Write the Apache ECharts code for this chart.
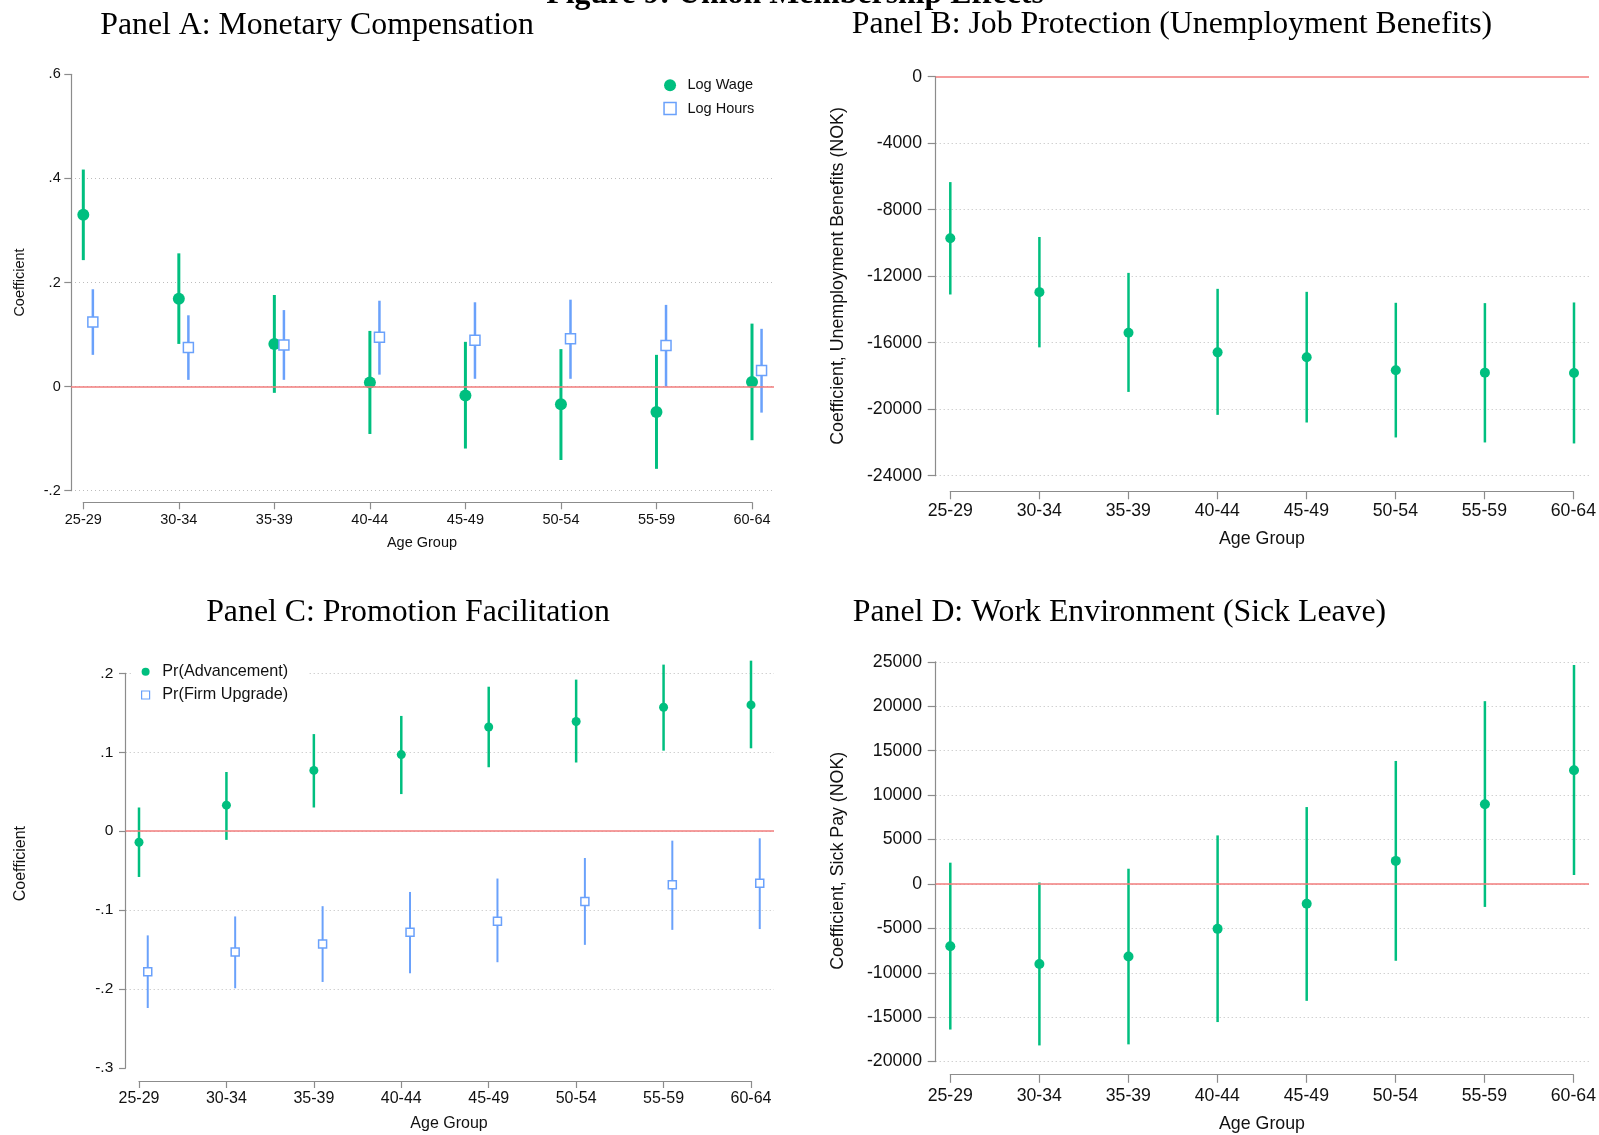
<!DOCTYPE html>
<html>
<head>
<meta charset="utf-8">
<script src="https://cdn.jsdelivr.net/npm/echarts@6/dist/echarts.min.js"></script>
<style>html,body{margin:0;padding:0;background:#fff}#chart{width:1599px;height:1135px}</style>
</head>
<body>
<div id="chart"></div>
<script>
// ---------------- DATA ----------------
const ageGroups = ['25-29', '30-34', '35-39', '40-44', '45-49', '50-54', '55-59', '60-64'];

const figureTitle = 'Figure 9: Union Membership Effects';
const panelTitles = [
  'Panel A: Monetary Compensation',
  'Panel B: Job Protection (Unemployment Benefits)',
  'Panel C: Promotion Facilitation',
  'Panel D: Work Environment (Sick Leave)'
];
const yTitles = ['Coefficient', 'Coefficient, Unemployment Benefits (NOK)', 'Coefficient', 'Coefficient, Sick Pay (NOK)'];
const xTitle = 'Age Group';

// Panel A
const wageCoef = [0.330, 0.169, 0.082, 0.008, -0.017, -0.034, -0.049, 0.009];
const wageLo   = [0.243, 0.082, -0.012, -0.091, -0.119, -0.141, -0.158, -0.103];
const wageHi   = [0.417, 0.256, 0.176, 0.107, 0.086, 0.072, 0.061, 0.121];
const hoursCoef = [0.124, 0.075, 0.080, 0.095, 0.089, 0.092, 0.079, 0.031];
const hoursLo   = [0.061, 0.013, 0.013, 0.023, 0.015, 0.015, 0.000, -0.050];
const hoursHi   = [0.187, 0.137, 0.147, 0.165, 0.162, 0.167, 0.157, 0.111];
const yTicksA = ['-.2', '0', '.2', '.4', '.6'];

// Panel B
const ubCoef = [-9720, -12960, -15400, -16580, -16880, -17660, -17800, -17820];
const ubLo   = [-13100, -16280, -18960, -20340, -20800, -21700, -22000, -22060];
const ubHi   = [-6340, -9640, -11800, -12760, -12940, -13600, -13620, -13580];
const yTicksB = ['-24000', '-20000', '-16000', '-12000', '-8000', '-4000', '0'];

// Panel C
const advCoef = [-0.014, 0.033, 0.077, 0.097, 0.132, 0.139, 0.157, 0.160];
const advLo   = [-0.058, -0.011, 0.030, 0.047, 0.081, 0.087, 0.102, 0.105];
const advHi   = [0.030, 0.075, 0.123, 0.146, 0.183, 0.192, 0.211, 0.216];
const upgCoef = [-0.178, -0.153, -0.143, -0.128, -0.114, -0.089, -0.068, -0.066];
const upgLo   = [-0.224, -0.199, -0.191, -0.180, -0.166, -0.144, -0.125, -0.124];
const upgHi   = [-0.132, -0.108, -0.095, -0.077, -0.060, -0.034, -0.012, -0.009];
const yTicksC = ['-.3', '-.2', '-.1', '0', '.1', '.2'];

// Panel D
const sickCoef = [-7020, -9010, -8170, -5060, -2230, 2590, 8970, 12800];
const sickLo   = [-16390, -18180, -18060, -15550, -13160, -8650, -2590, 1000];
const sickHi   = [2390, 160, 1710, 5460, 8650, 13840, 20570, 24640];
const yTicksD = ['-20000', '-15000', '-10000', '-5000', '0', '5000', '10000', '15000', '20000', '25000'];

// ---------------- STYLE / LAYOUT ----------------
const GREEN = '#00bf7f';
const BLUE = '#6aa1fb';
const RED = '#f27c7c';
const AXIS = '#8c8c8c';
const GRIDC = '#bdbdbd';
const SANS = '"Liberation Sans", Arial, Helvetica, sans-serif';
const SERIF = '"Liberation Serif", "Times New Roman", serif';
const TITLE_SIZE = 31.8;
const DODGE = 0.1; // horizontal offset of the second series, in category units

const panels = [
  { plotLeft: 71, plotRight: 774, plotTop: 74.3, plotBottom: 490.7, cat0: 83.3, catLast: 752, xAxisY: 502.3,
    yFont: 14.5, xFont: 14.5, yTickLen: 6.7, yLabelMargin: 10.3, xTickLen: 7, xLabelMargin: 10.5,
    gridMin: true, gridMax: false, yTicks: yTicksA,
    title: [317, 25.5], yTitle: [19.5, 282.5, 14.5], xTitle: [422, 542.7, 14.5] },
  { plotLeft: 935.7, plotRight: 1589, plotTop: 76.7, plotBottom: 475.7, cat0: 950.3, catLast: 1574, xAxisY: 491,
    yFont: 17.7, xFont: 17.7, yTickLen: 8, yLabelMargin: 13.7, xTickLen: 8.3, xLabelMargin: 10.7,
    gridMin: true, gridMax: false, yTicks: yTicksB,
    title: [1172, 24.5], yTitle: [838.5, 276, 17.8], xTitle: [1262, 539.3, 17.8] },
  { plotLeft: 125.7, plotRight: 774, plotTop: 673.3, plotBottom: 1068, cat0: 139, catLast: 751, xAxisY: 1081,
    yFont: 15.5, xFont: 16, yTickLen: 6.7, yLabelMargin: 12.4, xTickLen: 7, xLabelMargin: 9.3,
    gridMin: false, gridMax: true, yTicks: yTicksC,
    title: [408, 613], yTitle: [21, 863.6, 16], xTitle: [449, 1124, 16] },
  { plotLeft: 935.7, plotRight: 1589, plotTop: 661.8, plotBottom: 1061.6, cat0: 950.3, catLast: 1574, xAxisY: 1074.5,
    yFont: 17.7, xFont: 17.7, yTickLen: 8, yLabelMargin: 13.7, xTickLen: 8.3, xLabelMargin: 13,
    gridMin: true, gridMax: true, yTicks: yTicksD,
    title: [1119.5, 613], yTitle: [838.5, 860.8, 17.8], xTitle: [1262, 1123.9, 17.8] }
];

const grids = [], xAxes = [], yAxes = [], series = [], graphics = [];

function addPanel(p) {
  const gi = grids.length;
  const n = ageGroups.length;
  grids.push({ left: p.plotLeft, top: p.plotTop, width: p.plotRight - p.plotLeft, height: p.plotBottom - p.plotTop, containLabel: false });
  grids.push({ left: p.cat0, top: p.xAxisY - 1, width: p.catLast - p.cat0, height: 1, containLabel: false });
  const sp = (p.catLast - p.cat0) / (n - 1);
  xAxes.push({ type: 'value', gridIndex: gi, min: -(p.cat0 - p.plotLeft) / sp, max: (n - 1) + (p.plotRight - p.catLast) / sp, show: false });
  xAxes.push({
    type: 'value', gridIndex: gi + 1, min: 0, max: n - 1, interval: 1,
    axisLine: { show: true, onZero: false, lineStyle: { color: AXIS, width: 1.2 } },
    axisTick: { show: true, length: p.xTickLen, lineStyle: { color: AXIS, width: 1.2 } },
    axisLabel: { show: true, margin: p.xLabelMargin, fontSize: p.xFont, fontFamily: SANS, color: '#111',
      showMinLabel: true, showMaxLabel: true, formatter: v => ageGroups[Math.round(v)] },
    splitLine: { show: false }
  });
  const t = p.yTicks;
  const ymin = parseFloat(t[0]), ymax = parseFloat(t[t.length - 1]);
  const yint = (ymax - ymin) / (t.length - 1);
  yAxes.push({
    type: 'value', gridIndex: gi, min: ymin, max: ymax, interval: yint,
    axisLine: { show: true, onZero: false, lineStyle: { color: AXIS, width: 1.2 } },
    axisTick: { show: true, length: p.yTickLen, lineStyle: { color: AXIS, width: 1.2 } },
    axisLabel: { show: true, margin: p.yLabelMargin, fontSize: p.yFont, fontFamily: SANS, color: '#111',
      showMinLabel: true, showMaxLabel: true, formatter: v => t[Math.round((v - ymin) / yint)] },
    splitLine: { show: true, showMinLine: p.gridMin, showMaxLine: p.gridMax,
      lineStyle: { color: GRIDC, width: 1, type: [1, 3] } }
  });
  yAxes.push({ type: 'value', gridIndex: gi + 1, min: 0, max: 1, show: false });
  // zero reference line
  series.push({ type: 'line', name: 'zero' + gi, xAxisIndex: gi, yAxisIndex: gi, data: [], z: 1, silent: true,
    markLine: { silent: true, symbol: ['none', 'none'], label: { show: false }, animation: false,
      lineStyle: { color: RED, width: 1.6, type: 'solid' }, data: [{ yAxis: 0 }] } });
  // titles
  graphics.push({ type: 'text', x: p.title[0], y: p.title[1], silent: true,
    style: { text: panelTitles[gi / 2], fontFamily: SERIF, fontSize: TITLE_SIZE, fill: '#000', align: 'center', verticalAlign: 'middle' } });
  graphics.push({ type: 'text', x: p.yTitle[0], y: p.yTitle[1], rotation: Math.PI / 2, silent: true,
    style: { text: yTitles[gi / 2], fontFamily: SANS, fontSize: p.yTitle[2], fill: '#111', align: 'center', verticalAlign: 'middle' } });
  graphics.push({ type: 'text', x: p.xTitle[0], y: p.xTitle[1], silent: true,
    style: { text: xTitle, fontFamily: SANS, fontSize: p.xTitle[2], fill: '#111', align: 'center', verticalAlign: 'middle' } });
  return gi;
}

function addEstimates(gi, name, coef, lo, hi, off, color, ciWidth, symbol, size, hollow) {
  series.push({
    type: 'custom', name: name + ' CI', xAxisIndex: gi, yAxisIndex: gi, z: 2, silent: true, clip: false,
    data: ageGroups.map((g, i) => [i + off, lo[i], hi[i]]),
    encode: { x: 0, y: [1, 2] },
    renderItem: (params, api) => {
      const a = api.coord([api.value(0), api.value(1)]);
      const b = api.coord([api.value(0), api.value(2)]);
      return { type: 'line', shape: { x1: a[0], y1: a[1], x2: b[0], y2: b[1] }, style: { stroke: color, lineWidth: ciWidth } };
    }
  });
  series.push({
    type: 'scatter', name: name, xAxisIndex: gi, yAxisIndex: gi, z: 3, silent: true, clip: false,
    symbol: symbol, symbolSize: size,
    itemStyle: hollow ? { color: '#ffffff', borderColor: color, borderWidth: 1.5, opacity: 1 } : { color: color, opacity: 1 },
    data: ageGroups.map((g, i) => [i + off, coef[i]])
  });
}

const gA = addPanel(panels[0]);
addEstimates(gA, 'Log Wage', wageCoef, wageLo, wageHi, 0, GREEN, 3, 'circle', 12, false);
addEstimates(gA, 'Log Hours', hoursCoef, hoursLo, hoursHi, DODGE, BLUE, 2.5, 'rect', 10, true);

const gB = addPanel(panels[1]);
addEstimates(gB, 'Unemployment Benefits', ubCoef, ubLo, ubHi, 0, GREEN, 2.5, 'circle', 10, false);

const gC = addPanel(panels[2]);
addEstimates(gC, 'Pr(Advancement)', advCoef, advLo, advHi, 0, GREEN, 2.5, 'circle', 9, false);
addEstimates(gC, 'Pr(Firm Upgrade)', upgCoef, upgLo, upgHi, DODGE, BLUE, 2, 'rect', 8, true);

const gD = addPanel(panels[3]);
addEstimates(gD, 'Sick Pay', sickCoef, sickLo, sickHi, 0, GREEN, 2.5, 'circle', 10, false);

graphics.push({ type: 'text', x: 795, y: -5, silent: true,
  style: { text: figureTitle, fontFamily: SERIF, fontSize: TITLE_SIZE, fontWeight: 'bold', fill: '#000', align: 'center', verticalAlign: 'middle' } });

const legends = [
  { orient: 'vertical', left: 663.3, top: 77.8, padding: 0, itemGap: 8.2, itemWidth: 12, itemHeight: 12,
    selectedMode: false, textStyle: { fontSize: 14.5, fontFamily: SANS, color: '#111', padding: [0, 0, 0, 6.4] },
    data: [
      { name: 'Log Wage', icon: 'circle', itemStyle: { color: GREEN } },
      { name: 'Log Hours', icon: 'rect', itemStyle: { color: '#ffffff', borderColor: BLUE, borderWidth: 1.5 } }
    ] },
  { orient: 'vertical', left: 133, top: 659.7, padding: [4, 20, 4, 8], itemGap: 7.3, itemWidth: 8, itemHeight: 8,
    backgroundColor: '#ffffff', selectedMode: false,
    textStyle: { fontSize: 16.2, fontFamily: SANS, color: '#111', padding: [0, 0, 0, 7.7] },
    data: [
      { name: 'Pr(Advancement)', icon: 'circle', itemStyle: { color: GREEN } },
      { name: 'Pr(Firm Upgrade)', icon: 'rect', itemStyle: { color: '#ffffff', borderColor: BLUE, borderWidth: 1.2 } }
    ] }
];

const chart = echarts.init(document.getElementById('chart'), null, { renderer: 'canvas' });
chart.setOption({
  backgroundColor: '#ffffff',
  animation: false,
  grid: grids,
  xAxis: xAxes,
  yAxis: yAxes,
  legend: legends,
  series: series,
  graphic: graphics
});
</script>
</body>
</html>
